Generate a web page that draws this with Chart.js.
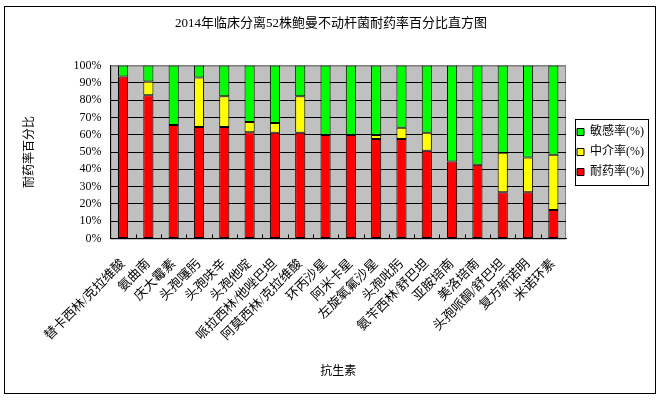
<!DOCTYPE html>
<html>
<head>
<meta charset="utf-8">
<script src="https://cdn.jsdelivr.net/npm/chart.js@4.4.1/dist/chart.umd.min.js"></script>
<style>
    html, body { margin: 0; padding: 0; background: #fff; }
    #wrap { position: relative; width: 662px; height: 400px; }
    #frame { position: absolute; left: 4px; top: 6px; width: 650px; height: 386px; border: 1px solid #000; pointer-events: none; }
</style>
</head>
<body>
<div id="wrap">
    <canvas id="resistChart" width="662" height="400"></canvas>
    <div id="frame"></div>
</div>
<script>
const antibiotics = [
    '替卡西林/克拉维酸', '氨曲南', '庆大霉素', '头孢噻肟', '头孢呋辛', '头孢他啶',
    '哌拉西林/他唑巴坦', '阿莫西林/克拉维酸', '环丙沙星', '阿米卡星', '左旋氧氟沙星', '头孢吡肟',
    '氨苄西林/舒巴坦', '亚胺培南', '美洛培南', '头孢哌酮/舒巴坦', '复方新诺明', '米诺环素'
];
const resistRate       = [93.7, 82.8, 65.6, 64.5, 64.5, 61.5, 61.1, 61.1, 59.9, 59.9, 57.6, 57.6, 50.8, 44.5, 42.7, 26.7, 26.7, 16.4];
const intermediateRate = [0, 8.0, 0, 28.6, 17.8, 5.9, 5.7, 21.2, 0, 0, 2.3, 6.5, 10.3, 0, 0, 22.9, 20.1, 32.1];
const sensitiveRate    = [6.3, 9.2, 34.4, 6.9, 17.7, 32.6, 33.2, 17.7, 40.1, 40.1, 40.1, 35.9, 38.9, 55.5, 57.3, 50.4, 53.2, 51.5];

const FONT = "'Liberation Serif', 'Noto Sans CJK SC', serif";

// grey plot background + frame
const plotBg = {
    id: 'plotBg',
    beforeDraw(chart) {
        const { ctx, chartArea: a } = chart;
        ctx.save();
        ctx.fillStyle = '#c0c0c0';
        ctx.fillRect(a.left, a.top, a.right - a.left, a.bottom - a.top);
        ctx.strokeStyle = '#808080';
        ctx.lineWidth = 1;
        ctx.strokeRect(a.left + 0.5, a.top + 0.5, a.right - a.left - 1, a.bottom - a.top);
        ctx.restore();
    }
};

// short inward tick marks between categories
const innerTicks = {
    id: 'innerTicks',
    afterDatasetsDraw(chart) {
        const { ctx, chartArea: a, scales } = chart;
        const x = scales.x;
        const step = x.getPixelForValue(1) - x.getPixelForValue(0);
        ctx.save();
        ctx.strokeStyle = '#000';
        ctx.lineWidth = 1;
        ctx.beginPath();
        for (let i = 1; i < antibiotics.length; i++) {
            const px = Math.round(x.getPixelForValue(i) - step / 2) + 0.5;
            ctx.moveTo(px, a.bottom);
            ctx.lineTo(px, a.bottom - 4);
        }
        ctx.stroke();
        ctx.restore();
    }
};

// box round the legend
const legendBox = {
    id: 'legendBox',
    afterDraw(chart) {
        const boxes = chart.legend && chart.legend.legendHitBoxes;
        if (!boxes || !boxes.length) return;
        let l = Infinity, t = Infinity, r = -Infinity, b = -Infinity;
        boxes.forEach(h => {
            l = Math.min(l, h.left); t = Math.min(t, h.top);
            r = Math.max(r, h.left + h.width); b = Math.max(b, h.top + h.height);
        });
        const ctx = chart.ctx;
        ctx.save();
        ctx.strokeStyle = '#000';
        ctx.lineWidth = 1;
        ctx.strokeRect(Math.round(l - 2) + 0.5, Math.round(t - 7) + 0.5, Math.round(r - l + 6), Math.round(b - t + 14));
        ctx.restore();
    }
};

const ctx = document.getElementById('resistChart').getContext('2d');

new Chart(ctx, {
    type: 'bar',
    data: {
        labels: antibiotics,
        datasets: [
            {
                label: '耐药率(%)',
                data: resistRate,
                backgroundColor: '#ff0000',
                borderColor: '#000',
                borderWidth: 1,
                borderSkipped: false
            },
            {
                label: '中介率(%)',
                data: intermediateRate,
                backgroundColor: '#ffff00',
                borderColor: '#000',
                borderWidth: 1,
                borderSkipped: false
            },
            {
                label: '敏感率(%)',
                data: sensitiveRate,
                backgroundColor: '#00ff00',
                borderColor: '#000',
                borderWidth: 1,
                borderSkipped: false
            }
        ]
    },
    options: {
        responsive: false,
        animation: false,
        devicePixelRatio: 1,
        categoryPercentage: 1,
        barPercentage: 0.4,
        layout: {
            padding: { top: 6, left: 8, right: 8, bottom: 21 }
        },
        plugins: {
            title: {
                display: true,
                text: '2014年临床分离52株鲍曼不动杆菌耐药率百分比直方图',
                color: '#000',
                font: { family: FONT, size: 13, weight: 'normal' },
                padding: { top: 10, bottom: 34 }
            },
            legend: {
                position: 'right',
                reverse: true,
                fullSize: false,
                labels: {
                    color: '#000',
                    font: { family: FONT, size: 12 },
                    boxWidth: 7,
                    boxHeight: 7,
                    padding: 8
                }
            },
            tooltip: { enabled: false }
        },
        scales: {
            x: {
                stacked: true,
                grid: { display: false },
                border: { display: true, color: '#000', width: 1 },
                ticks: {
                    color: '#000',
                    autoSkip: false,
                    maxRotation: 45,
                    minRotation: 45,
                    padding: 10,
                    font: { family: FONT, size: 13 }
                },
                title: {
                    display: true,
                    text: '抗生素',
                    color: '#000',
                    font: { family: FONT, size: 12 },
                    padding: { top: 11, bottom: 0 }
                }
            },
            y: {
                stacked: true,
                min: 0,
                max: 100,
                grid: {
                    color: c => c.tick && c.tick.value === 100 ? '#808080' : '#000',
                    drawTicks: false
                },
                border: { display: true, color: '#000', width: 1 },
                ticks: {
                    stepSize: 10,
                    autoSkip: false,
                    color: '#000',
                    padding: 9,
                    font: { family: FONT, size: 12 },
                    callback: v => v + '%'
                },
                title: {
                    display: true,
                    text: '耐药率百分比',
                    color: '#000',
                    font: { family: FONT, size: 12 },
                    padding: { top: 15, bottom: 27 }
                }
            },
            // empty spacer between plot and legend
            gap: {
                axis: 'y',
                position: 'right',
                display: true,
                grid: { display: false },
                border: { display: false },
                ticks: { display: false },
                afterFit: s => { s.width = 3; }
            }
        }
    },
    plugins: [plotBg, innerTicks, legendBox]
});
</script>
</body>
</html>
